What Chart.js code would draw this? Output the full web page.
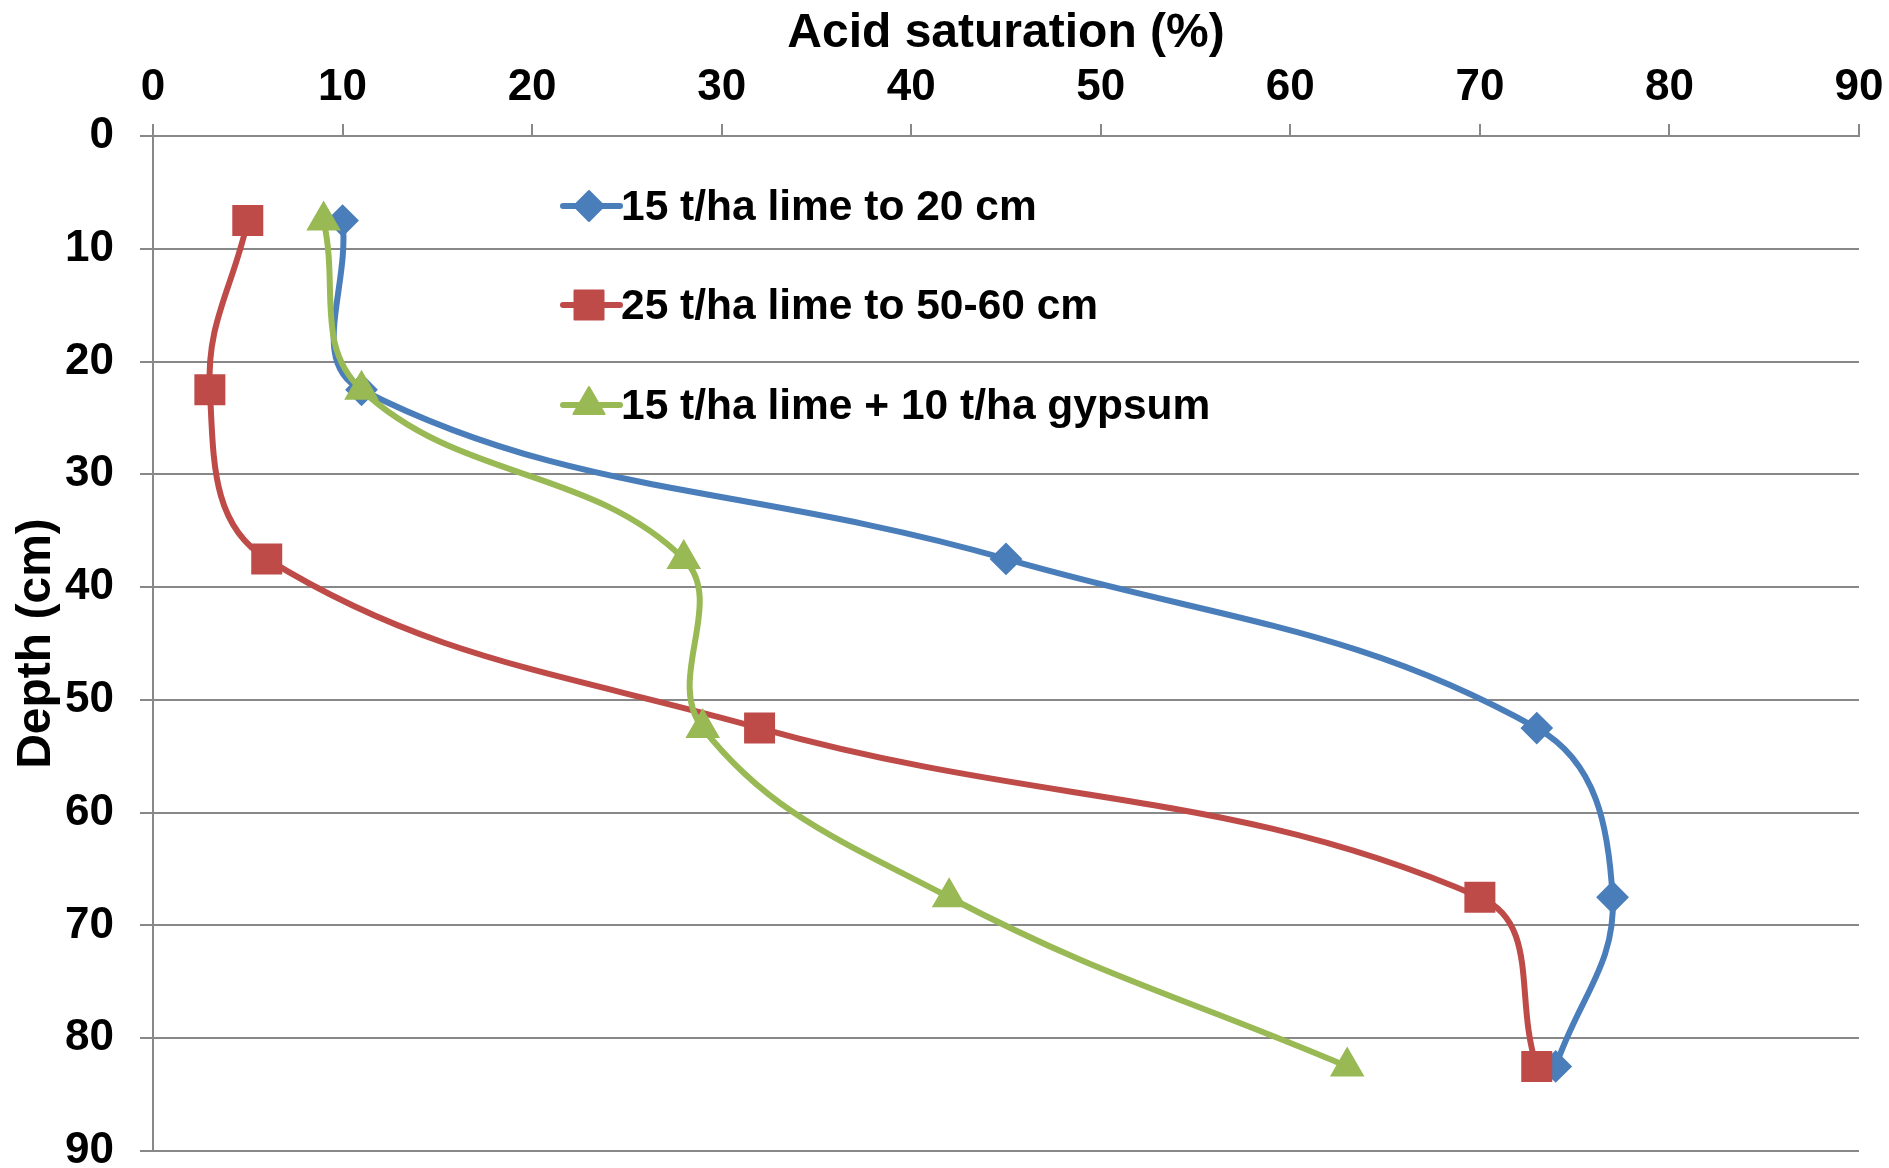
<!DOCTYPE html>
<html><head><meta charset="utf-8">
<script src="https://cdn.jsdelivr.net/npm/chart.js@4/dist/chart.umd.min.js"></script>
<style>html,body{margin:0;padding:0;background:#fff;}#wrap{width:1889px;height:1168px;}</style>
</head><body><div id="wrap"><canvas id="c" width="1889" height="1168"></canvas></div>
<script>
// ---- data ----
const depths = [7.5, 22.5, 37.5, 52.5, 67.5, 82.5];
const lime20 = [10, 11, 45, 73, 77, 74];
const lime5060 = [5, 3, 6, 32, 70, 73];
const limeGypsum = [9, 11, 28, 29, 42, 63];
const seriesLabels = ['15 t/ha lime to 20 cm', '25 t/ha lime to 50-60 cm', '15 t/ha lime + 10 t/ha gypsum'];
const xTickValues = [0, 10, 20, 30, 40, 50, 60, 70, 80, 90];
const yTickValues = [0, 10, 20, 30, 40, 50, 60, 70, 80, 90];
const xTitle = 'Acid saturation (%)';
const yTitle = 'Depth (cm)';

const FONT = "'Liberation Sans', Arial, sans-serif";
const colors = ['#4a7ebb', '#be4b48', '#98b954'];
const styles = [
  {pointStyle: 'rectRot', radius: 15},
  {pointStyle: 'rect', radius: 20.5},
  {pointStyle: 'triangle', radius: 18}
];
const seriesValues = [lime20, lime5060, limeGypsum];

function pts(xs) { return xs.map((v, i) => ({x: v, y: depths[i]})); }

const datasets = seriesValues.map((vals, i) => ({
  label: seriesLabels[i],
  data: pts(vals),
  showLine: true,
  borderColor: colors[i],
  backgroundColor: colors[i],
  borderWidth: 6,
  tension: 0.4,
  pointStyle: styles[i].pointStyle,
  pointRadius: styles[i].radius,
  pointHoverRadius: styles[i].radius,
  pointBorderWidth: 2,
  pointBorderColor: colors[i],
  pointBackgroundColor: colors[i],
  order: 3 - i
}));

const legendPlugin = {
  id: 'inLegend',
  afterDraw(chart) {
    const ctx = chart.ctx;
    const ys = [206, 305, 405];
    const x0 = 563, x1 = 620, cx = 589, tx = 621;
    ctx.save();
    chart.data.datasets.forEach((ds, i) => {
      const y = ys[i];
      ctx.strokeStyle = colors[i];
      ctx.lineWidth = 6;
      ctx.lineCap = 'round';
      ctx.beginPath(); ctx.moveTo(x0, y); ctx.lineTo(x1, y); ctx.stroke();
      ctx.fillStyle = colors[i];
      ctx.strokeStyle = colors[i];
      ctx.lineWidth = 2;
      ctx.lineJoin = 'round';
      Chart.helpers.drawPoint(ctx, {pointStyle: styles[i].pointStyle, radius: styles[i].radius, rotation: 0, borderWidth: 2}, cx, y);
      ctx.fillStyle = '#000';
      ctx.font = 'bold 42.5px ' + FONT;
      ctx.textBaseline = 'middle';
      ctx.textAlign = 'left';
      ctx.fillText(ds.label, tx, y + 2);
    });
    ctx.restore();
  }
};

new Chart(document.getElementById('c'), {
  type: 'scatter',
  data: {datasets},
  plugins: [legendPlugin],
  options: {
    responsive: false,
    animation: false,
    devicePixelRatio: 1,
    layout: {autoPadding: false, padding: {left: 0, top: 0, right: 30, bottom: 17}},
    plugins: {legend: {display: false}, tooltip: {enabled: false}},
    scales: {
      x: {
        type: 'linear', position: 'top', min: 0, max: 90,
        afterBuildTicks(s) { s.ticks = xTickValues.map(v => ({value: v})); },
        ticks: {font: {family: FONT, size: 44, weight: 'bold'}, color: '#000', padding: 10, maxRotation: 0},
        grid: {drawOnChartArea: false, drawTicks: true, tickLength: 12, color: '#888', lineWidth: 2},
        border: {display: true, color: '#888', width: 2},
        title: {display: true, text: xTitle, color: '#000', font: {family: FONT, size: 48, weight: 'bold'}, padding: {top: 5, bottom: 0}},
        afterFit(s) { s.height = 136; s.paddingLeft = 0; s.paddingRight = 0; }
      },
      y: {
        type: 'linear', position: 'left', reverse: true, min: 0, max: 90,
        afterBuildTicks(s) { s.ticks = yTickValues.map(v => ({value: v})); },
        ticks: {font: {family: FONT, size: 44, weight: 'bold', lineHeight: 0.8}, color: '#000', padding: 26},
        grid: {color: '#888', lineWidth: 2, tickLength: 13},
        border: {display: true, color: '#888', width: 2},
        title: {display: true, text: yTitle, color: '#000', font: {family: FONT, size: 48, weight: 'bold'}, padding: {top: 8, bottom: 0}},
        afterFit(s) { s.width = 153; s.paddingTop = 0; s.paddingBottom = 0; }
      }
    }
  }
});
</script></body></html>
